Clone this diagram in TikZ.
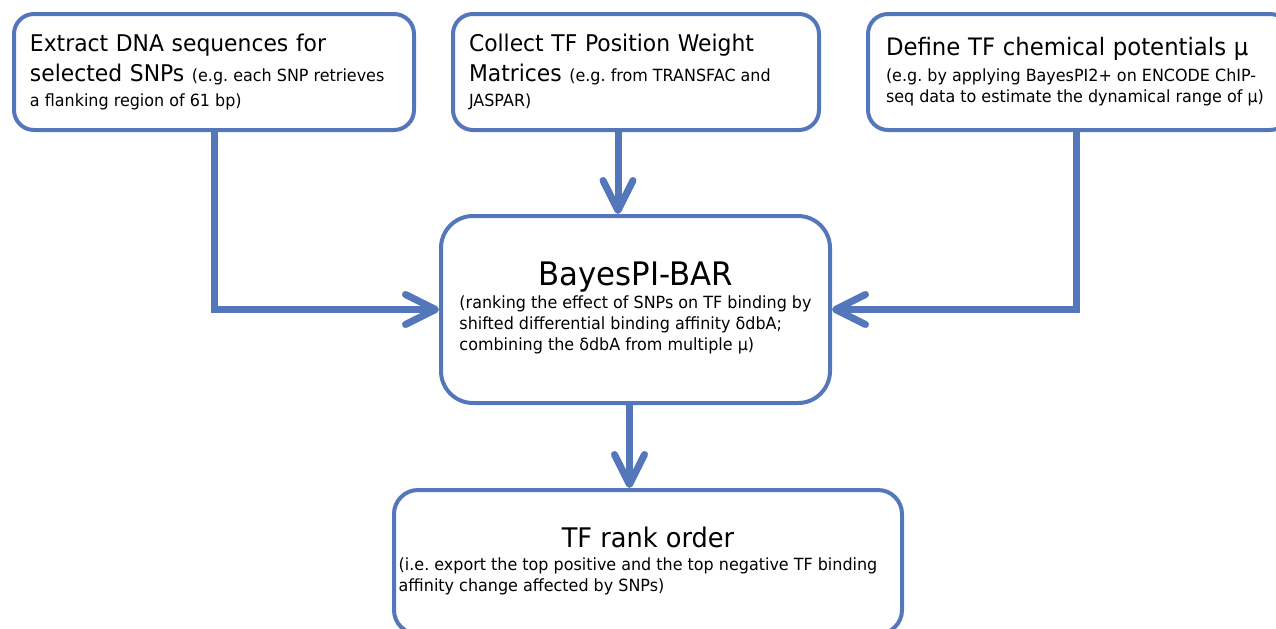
\documentclass[tikz,border=0pt]{standalone}
\usepackage{fontspec}
\setmainfont[FakeStretch=0.95]{DejaVu Sans}
\usetikzlibrary{arrows.meta}

\definecolor{flowblue}{RGB}{84,119,188}
% smaller print inside the boxes
\newcommand{\detail}[1]{{\fontsize{8.4pt}{11pt}\selectfont\spaceskip=0pt #1}}
\newcommand{\notes}[2][@{}]{{\fontsize{8.4pt}{10.5pt}\selectfont\begin{tabular}[t]{@{}l#1}#2\end{tabular}}}

\begin{document}
\frenchspacing
\begin{tikzpicture}[x=0.5pt,y=-0.5pt,
		box/.style={draw=flowblue,line width=2pt,fill=white},
		inbox/.style={box,rounded corners=10pt,minimum height=58pt,align=left,inner xsep=8pt,
			font=\fontsize{11.5pt}{15pt}\selectfont},
		flow/.style={draw=flowblue,line width=3.5pt,
			-{Straight Barb[length=15pt,width=15pt,line cap=round,line join=round]}}]
			\useasboundingbox (0,0) rectangle (1276,628);

			% the three inputs
			\node[inbox,minimum width=200pt,text width=184pt] (dna) at (214,72)
				{Extract DNA sequences for\\ selected SNPs \detail{(e.g. each SNP retrieves}\\[-2.5pt] \detail{a flanking region of 61 bp)}};
			\node[inbox,minimum width=183pt,text width=167pt] (pwm) at (636,72)
				{Collect TF Position Weight\\ Matrices \detail{(e.g. from TRANSFAC and}\\[-2.5pt] \detail{JASPAR)}};
			\node[inbox,minimum width=211pt,text width=193pt,inner xsep=9pt] (mu) at (1079,72)
				{{\fontsize{12pt}{15pt}\selectfont Define TF chemical potentials μ}\\[-2pt]
				\detail{(e.g. by applying BayesPI2+ on ENCODE ChIP-}\\[-4.5pt] \detail{seq data to estimate the dynamical range of μ)}};

			% the method itself
			\node[box,rounded corners=16pt,minimum width=194.5pt,minimum height=93.5pt,align=center,
				font=\fontsize{16.2pt}{11.5pt}\selectfont] (bar) at (635.5,309.5)
				{BayesPI-BAR\\
				\notes{(ranking the effect of SNPs on TF binding by\\
				shifted differential binding affinity δdbA;\\
				combining the δdbA from multiple μ)}};

			% output
			\node[box,rounded corners=12pt,minimum width=254pt,minimum height=72pt,align=center,inner xsep=0pt,
				font=\fontsize{13.5pt}{11.5pt}\selectfont] (rank) at (648,562)
				{TF rank order\\
				\notes[@{\hspace{10pt}}]{(i.e. export the top positive and the top negative TF binding\\
				affinity change affected by SNPs)}};

			\draw[flow] (dna) |- (bar);
			\draw[flow] ([xshift=-1.5pt]mu.south) |- (bar);
			\draw[flow] ([xshift=-9pt]pwm.south) -- ([xshift=-9pt]pwm.south |- bar.north);
			\draw[flow] ([xshift=-3pt]bar.south) -- ([xshift=-3pt]bar.south |- rank.north);
\end{tikzpicture}
\end{document}
